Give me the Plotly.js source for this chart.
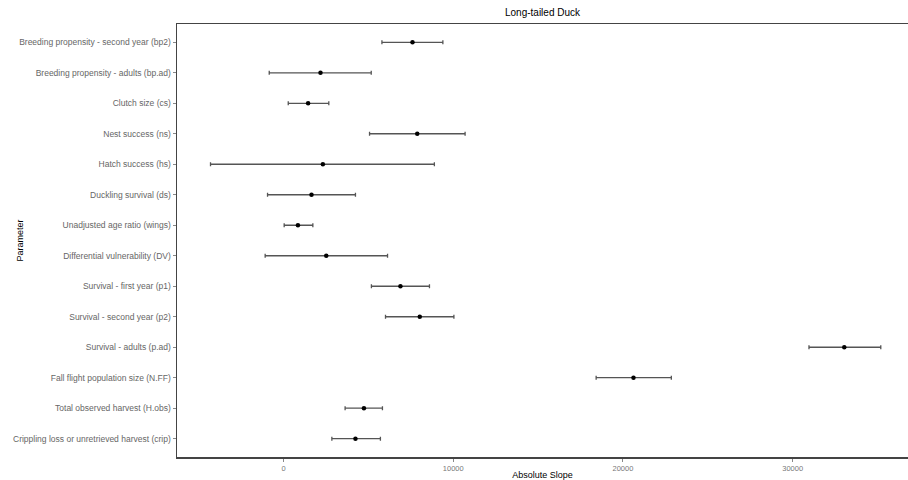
<!DOCTYPE html>
<html>
<head>
<meta charset="utf-8">
<script src="https://cdn.plot.ly/plotly-3.0.1.min.js"></script>
<style>html,body{margin:0;padding:0;background:#fff;}#chart{width:908px;height:480px;}</style>
</head>
<body>
<div id="chart"></div>
<script>
const parameters = [
  "Breeding propensity - second year (bp2)",
  "Breeding propensity - adults (bp.ad)",
  "Clutch size (cs)",
  "Nest success (ns)",
  "Hatch success (hs)",
  "Duckling survival (ds)",
  "Unadjusted age ratio (wings)",
  "Differential vulnerability (DV)",
  "Survival - first year (p1)",
  "Survival - second year (p2)",
  "Survival - adults (p.ad)",
  "Fall flight population size (N.FF)",
  "Total observed harvest (H.obs)",
  "Crippling loss or unretrieved harvest (crip)"
];
const slope = [7600, 2180, 1450, 7880, 2320, 1650, 850, 2520, 6890, 8030, 33040, 20620, 4740, 4240];
const lower = [5800, -840, 280, 5070, -4300, -940, 40, -1080, 5180, 6010, 30960, 18420, 3630, 2850];
const upper = [9390, 5170, 2670, 10700, 8890, 4240, 1730, 6130, 8600, 10040, 35190, 22850, 5830, 5710];
const xTicks = [0, 10000, 20000, 30000];

const errPlus = upper.map((u, i) => u - slope[i]);
const errMinus = lower.map((l, i) => slope[i] - l);

const trace = {
  type: 'scatter',
  mode: 'markers',
  x: slope,
  y: parameters,
  marker: {color: '#000000', size: 4.5},
  error_x: {
    type: 'data',
    symmetric: false,
    array: errPlus,
    arrayminus: errMinus,
    color: '#555555',
    thickness: 1.3,
    width: 2
  },
  hoverinfo: 'x+y'
};

const layout = {
  width: 908,
  height: 480,
  paper_bgcolor: '#ffffff',
  plot_bgcolor: '#ffffff',
  margin: {l: 177, r: 0, t: 24, b: 23, pad: 0},
  showlegend: false,
  font: {family: 'Liberation Sans, Arial, sans-serif', size: 8, color: '#666666'},
  title: {
    text: 'Long-tailed Duck',
    font: {family: 'Liberation Sans, Arial, sans-serif', size: 10, color: '#000000'},
    x: 0.5, xref: 'paper', xanchor: 'center',
    y: 14, yref: 'container', yanchor: 'middle'
  },
  xaxis: {
    range: [-6274, 36794],
    tickvals: xTicks,
    ticktext: xTicks.map(String),
    showgrid: false,
    zeroline: false,
    showline: true,
    linecolor: '#444444',
    linewidth: 1.5,
    mirror: true,
    ticks: 'outside',
    ticklen: 3,
    tickcolor: '#888888',
    tickwidth: 1,
    tickfont: {size: 7.5, color: '#777777'},
    automargin: false,
    title: {text: 'Absolute Slope', font: {size: 9, color: '#000000'}}
  },
  yaxis: {
    type: 'category',
    categoryorder: 'array',
    categoryarray: parameters,
    range: [13.6, -0.6],
    showgrid: false,
    zeroline: false,
    showline: true,
    linecolor: '#444444',
    linewidth: 1.5,
    ticks: 'outside',
    ticklen: 3,
    tickcolor: '#888888',
    tickwidth: 1,
    tickfont: {size: 8.5, color: '#666666'},
    automargin: false
  },
  annotations: [{
    text: 'Parameter',
    xref: 'paper', yref: 'paper',
    x: (19 - 177) / 731, y: 0.5,
    xanchor: 'center', yanchor: 'middle',
    textangle: -90,
    showarrow: false,
    font: {size: 9, color: '#000000'}
  }]
};

Plotly.newPlot('chart', [trace], layout, {displayModeBar: false, staticPlot: true});
</script>
</body>
</html>
